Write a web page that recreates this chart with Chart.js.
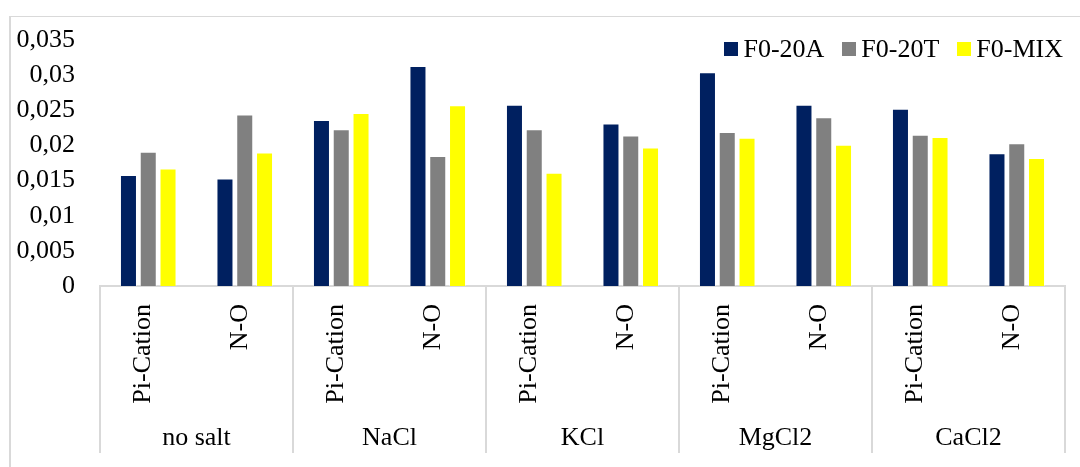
<!DOCTYPE html>
<html>
<head>
<meta charset="utf-8">
<script src="https://cdn.jsdelivr.net/npm/chart.js@4/dist/chart.umd.min.js"></script>
<style>
  html, body { margin: 0; padding: 0; background: #fff; }
  #wrap { position: relative; width: 1080px; height: 467px; overflow: hidden; background: #fff; }
  #frame { position: absolute; left: 9px; top: 16px; width: 1100px; height: 480px;
           border-left: 2px solid #d9d9d9; border-top: 1px solid #d9d9d9; box-sizing: border-box; }
  #chart { position: absolute; left: 0; top: 0; }
  #legend { position: absolute; right: 17px; top: 34px; display: flex; align-items: center;
            font-family: 'Liberation Serif', 'Times New Roman', serif; font-size: 26px; color: #000; }
  #legend .item { display: flex; align-items: center; margin-left: 18px; }
  #legend .box { width: 14px; height: 14px; margin-right: 5px; }
</style>
</head>
<body>
<div id="wrap">
  <div id="frame"></div>
  <canvas id="chart" width="1080" height="467"></canvas>
  <div id="legend"></div>
</div>
<script>
// Interaction type per bar, grouped by salt condition
const innerLabels = ['Pi-Cation', 'N-O', 'Pi-Cation', 'N-O', 'Pi-Cation', 'N-O', 'Pi-Cation', 'N-O', 'Pi-Cation', 'N-O'];
const groups = ['no salt', 'NaCl', 'KCl', 'MgCl2', 'CaCl2'];

const seriesNames = ['F0-20A', 'F0-20T', 'F0-MIX'];
const f020A = [0.0158, 0.0153, 0.0236, 0.0313, 0.0258, 0.0231, 0.0304, 0.0258, 0.0252, 0.0189];
const f020T = [0.0191, 0.0244, 0.0223, 0.0185, 0.0223, 0.0214, 0.0219, 0.0240, 0.0215, 0.0203];
const f0MIX = [0.0167, 0.0190, 0.0246, 0.0257, 0.0161, 0.0197, 0.0211, 0.0201, 0.0212, 0.0182];
const seriesColors = ['#002060', '#808080', '#ffff00'];

const FONT = "'Liberation Serif', 'Times New Roman', serif";
const LINE = '#d9d9d9';

// Vertical dividers between salt groups, running down through both label rows
const groupDividers = {
  id: 'groupDividers',
  afterDraw(chart) {
    const x2 = chart.scales.x2;
    const ctx = chart.ctx;
    const step = (x2.right - x2.left) / groups.length;
    ctx.save();
    ctx.strokeStyle = LINE;
    ctx.lineWidth = 2;
    for (let i = 0; i <= groups.length; i++) {
      const px = Math.round(x2.getPixelForValue(Math.min(i, groups.length - 1)) + (i === groups.length ? step / 2 : -step / 2));
      ctx.beginPath();
      ctx.moveTo(px, chart.chartArea.bottom);
      ctx.lineTo(px, 453);
      ctx.stroke();
    }
    ctx.restore();
  }
};

const datasets = [f020A, f020T, f0MIX].map((vals, i) => ({
  label: seriesNames[i],
  data: vals,
  backgroundColor: seriesColors[i],
  borderColor: 'rgba(255,255,255,0.35)',
  borderWidth: 1,
  categoryPercentage: 0.615,
  barPercentage: 0.86
}));

const chart = new Chart(document.getElementById('chart'), {
  type: 'bar',
  data: { labels: innerLabels, datasets },
  options: {
    responsive: false,
    animation: false,
    devicePixelRatio: 1,
    layout: { padding: { top: 30, right: 15, left: 0, bottom: 0 } },
    plugins: { legend: { display: false }, tooltip: { enabled: false } },
    scales: {
      y: {
        min: 0, max: 0.035,
        afterFit(s) { s.width = 100; },
        grid: { display: false, drawTicks: false },
        border: { display: false },
        ticks: {
          stepSize: 0.005,
          padding: 25,
          color: '#000',
          font: { family: FONT, size: 26, lineHeight: 1.15 },
          callback: v => Number(v.toFixed(3)).toString().replace('.', ',')
        }
      },
      x: {
        offset: true,
        afterFit(s) { s.height = 136; },
        grid: { display: false, drawTicks: false },
        border: { display: true, color: LINE, width: 2 },
        ticks: {
          minRotation: 90, maxRotation: 90,
          padding: 18,
          labelOffset: -5,
          color: '#000',
          font: { family: FONT, size: 26 }
        }
      },
      x2: {
        type: 'category',
        labels: groups,
        position: 'bottom',
        offset: true,
        afterFit(s) { s.height = 45; },
        grid: { display: false, drawTicks: false },
        border: { display: false },
        ticks: {
          padding: 1,
          maxRotation: 0,
          color: '#000',
          font: { family: FONT, size: 26 }
        }
      }
    }
  },
  plugins: [groupDividers]
});

// Legend row built from the chart's datasets
const legendEl = document.getElementById('legend');
chart.data.datasets.forEach(ds => {
  const item = document.createElement('div');
  item.className = 'item';
  const box = document.createElement('span');
  box.className = 'box';
  box.style.background = ds.backgroundColor;
  const txt = document.createElement('span');
  txt.textContent = ds.label;
  item.appendChild(box);
  item.appendChild(txt);
  legendEl.appendChild(item);
});
</script>
</body>
</html>
